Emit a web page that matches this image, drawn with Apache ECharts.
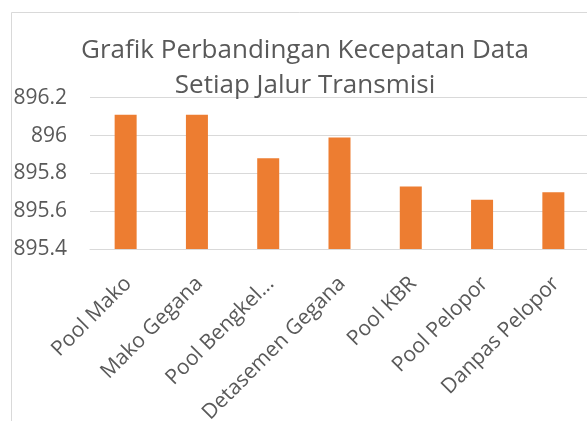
<!DOCTYPE html>
<html>
<head>
<meta charset="utf-8">
<script src="https://cdn.jsdelivr.net/npm/echarts@6/dist/echarts.min.js"></script>
<style>html,body{margin:0;padding:0;background:#fff}#c{width:587px;height:421px}</style>
</head>
<body>
<div id="c"></div>
<script>
var categories = ['Pool Mako', 'Mako Gegana', 'Pool Bengkel...', 'Detasemen Gegana', 'Pool KBR', 'Pool Pelopor', 'Danpas Pelopor'];
var speeds = [896.11, 896.11, 895.88, 895.99, 895.73, 895.66, 895.70];
var yTicks = [895.4, 895.6, 895.8, 896, 896.2];
var titleText = 'Grafik Perbandingan Kecepatan Data\nSetiap Jalur Transmisi';

var chart = echarts.init(document.getElementById('c'), null, {renderer: 'canvas'});
var font = 'Open Sans';
chart.setOption({
  animation: false,
  backgroundColor: '#ffffff',
  graphic: [{
    type: 'rect', left: 9, top: 10,
    shape: {width: 700, height: 500},
    style: {fill: 'none', stroke: '#d9d9d9', lineWidth: 1}
  }],
  title: {
    text: titleText,
    left: 300, top: 28, textAlign: 'center',
    textStyle: {fontFamily: font, fontSize: 26, fontWeight: 'normal', color: '#595959', lineHeight: 35}
  },
  grid: {left: 90, right: -2, top: 97.7, bottom: 172, containLabel: false, outerBoundsMode: 'none'},
  xAxis: {
    type: 'category', data: categories,
    axisLine: {show: true, lineStyle: {color: '#d9d9d9', width: 1}},
    axisTick: {show: false},
    axisLabel: {rotate: 45, interval: 0, margin: 19, verticalAlign: 'top', align: 'right',
      padding: [0, 7, 0, 0],
      color: '#595959', fontFamily: font, fontSize: 21}
  },
  yAxis: {
    type: 'value', min: 895.4, max: 896.2, interval: 0.2,
    axisLine: {show: false}, axisTick: {show: false},
    splitLine: {lineStyle: {color: '#d9d9d9', width: 1}},
    axisLabel: {margin: 23, color: '#595959', fontFamily: font, fontSize: 21,
      formatter: function (v) { var r = Math.round(v * 10) / 10; return String(r); }}
  },
  series: [{
    type: 'bar', data: speeds, barWidth: 22,
    itemStyle: {color: '#ED7D31'}
  }]
});
</script>
</body>
</html>
